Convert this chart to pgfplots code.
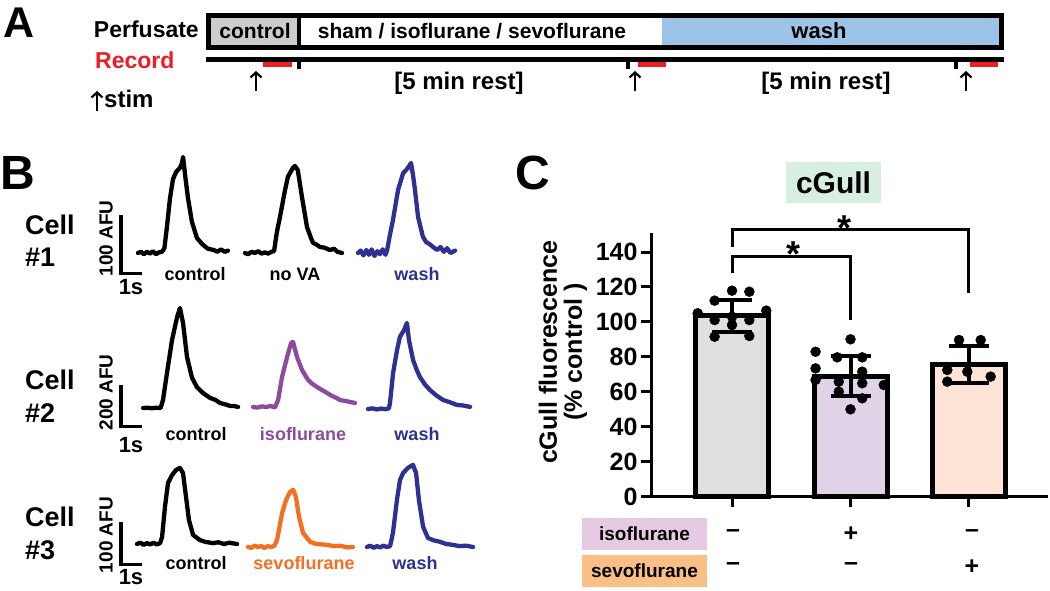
\documentclass[border=0pt]{standalone}
\usepackage{pgfplots}
\pgfplotsset{compat=1.18}
\usepackage{fontspec}
\setmainfont{Liberation Sans}
\usetikzlibrary{arrows.meta}

\definecolor{ctlgray}{HTML}{CCCCCC}
\definecolor{washblue}{HTML}{9DC3E6}
\definecolor{recred}{HTML}{EE1C25}
\definecolor{tblue}{HTML}{2E3192}
\definecolor{tpurple}{HTML}{8E4A9E}
\definecolor{torange}{HTML}{F37021}
\definecolor{barA}{HTML}{DFE0DF}
\definecolor{barB}{HTML}{E1D3E7}
\definecolor{barC}{HTML}{FDE4D6}
\definecolor{isobox}{HTML}{E6CAE4}
\definecolor{sevobox}{HTML}{F9BF85}
\definecolor{gullbox}{HTML}{D6EFE1}

\newcommand{\fs}[1]{\fontsize{#1}{#1}\selectfont}

\pgfplotsset{
  trace/.style={hide axis, clip=false, anchor=south west,
    x=22pt, xmin=0, xmax=4.9, ymin=0,
    every axis plot/.append style={mark=none, line width=4.3pt,
      line join=round, line cap=round}},
}

\begin{document}
\begin{tikzpicture}

% ---- drawing in pixel coordinates (y down)
\begin{scope}[x=1pt,y=-1pt,yshift=591pt]
  % panel A
  \node[anchor=base west, font=\fs{43}\bfseries, inner sep=0pt] at (3,38) {A};
  \node[anchor=base east, font=\fs{23}\bfseries, inner sep=0pt] at (199,38) {Perfusate};
  \fill[ctlgray] (206,13) rectangle (299,50);
  \fill[washblue] (662,13) rectangle (1004,50);
  \draw[line width=5pt] (208.5,15.5) rectangle (1001.5,47.5);
  \draw[line width=4pt] (299,15) -- (299,48);
  \node[anchor=base, font=\fs{21}\bfseries, inner sep=0pt] at (255,38.5) {control};
  \node[anchor=base, font=\fs{21}\bfseries, inner sep=0pt] at (472,38.5) {sham / isoflurane / sevoflurane};
  \node[anchor=base, font=\fs{22}\bfseries, inner sep=0pt] at (819,38.5) {wash};

  \node[anchor=base west, font=\fs{23}\bfseries, text=recred, inner sep=0pt] at (95,69) {Record};
  \draw[line width=4.5pt] (206,59.5) -- (1004,59.5);
  \foreach \t in {299,628,956} \draw[line width=4pt] (\t,57) -- (\t,69);
  \draw[recred, line width=5pt] (263,64.5) -- (292,64.5);
  \draw[recred, line width=5pt] (638,64.5) -- (666,64.5);
  \draw[recred, line width=5pt] (970,64.5) -- (998,64.5);
  \foreach \t in {256,635,966}
    \draw[line width=2.2pt, -{Straight Barb[length=5pt,width=11pt]}] (\t,91) -- (\t,71);
  \node[anchor=base, font=\fs{24}\bfseries, inner sep=0pt] at (459,90) {[5 min rest]};
  \node[anchor=base, font=\fs{24}\bfseries, inner sep=0pt] at (826,90) {[5 min rest]};
  \draw[line width=2.2pt, -{Straight Barb[length=5pt,width=11pt]}] (97,111) -- (97,91);
  \node[anchor=base west, font=\fs{24}\bfseries, inner sep=0pt] at (104,108) {stim};

  % panel B
  \node[anchor=base west, font=\fs{48}\bfseries, inner sep=0pt] at (0,190) {B};
  \node[anchor=base west, font=\fs{27}\bfseries, inner sep=0pt] at (25,235) {Cell};
  \node[anchor=base west, font=\fs{27}\bfseries, inner sep=0pt] at (25,267) {\#1};
  \node[anchor=base west, font=\fs{27}\bfseries, inner sep=0pt] at (25,390) {Cell};
  \node[anchor=base west, font=\fs{27}\bfseries, inner sep=0pt] at (25,423) {\#2};
  \node[anchor=base west, font=\fs{27}\bfseries, inner sep=0pt] at (25,527) {Cell};
  \node[anchor=base west, font=\fs{27}\bfseries, inner sep=0pt] at (25,560) {\#3};

  \draw[line width=3.3pt] (121,215) -- (121,273.5) -- (142,273.5);
  \draw[line width=3.3pt] (121,385) -- (121,426.5) -- (142,426.5);
  \draw[line width=3.3pt] (121,522) -- (121,564.5) -- (142,564.5);
  \node[rotate=90, font=\fs{19}\bfseries, inner sep=0pt] at (106,238.5) {100 AFU};
  \node[rotate=90, font=\fs{19}\bfseries, inner sep=0pt] at (106,392.5) {200 AFU};
  \node[rotate=90, font=\fs{19}\bfseries, inner sep=0pt] at (106,535) {100 AFU};
  \node[anchor=base, font=\fs{22}\bfseries, inner sep=0pt] at (131,295) {1s};
  \node[anchor=base, font=\fs{22}\bfseries, inner sep=0pt] at (131,453) {1s};
  \node[anchor=base, font=\fs{22}\bfseries, inner sep=0pt] at (131,585) {1s};

  \node[anchor=base, font=\fs{18}\bfseries, inner sep=0pt] at (195,281) {control};
  \node[anchor=base, font=\fs{18}\bfseries, inner sep=0pt] at (295,281) {no VA};
  \node[anchor=base, font=\fs{18}\bfseries, inner sep=0pt, text=tblue] at (417,281) {wash};
  \node[anchor=base, font=\fs{18}\bfseries, inner sep=0pt] at (196,441) {control};
  \node[anchor=base, font=\fs{18}\bfseries, inner sep=0pt, text=tpurple] at (303,441) {isoflurane};
  \node[anchor=base, font=\fs{18}\bfseries, inner sep=0pt, text=tblue] at (417,441) {wash};
  \node[anchor=base, font=\fs{18}\bfseries, inner sep=0pt] at (196,570) {control};
  \node[anchor=base, font=\fs{18}\bfseries, inner sep=0pt, text=torange] at (304,570) {sevoflurane};
  \node[anchor=base, font=\fs{18}\bfseries, inner sep=0pt, text=tblue] at (415,570) {wash};

  % panel C text
  \node[anchor=base east, font=\fs{48}\bfseries, inner sep=0pt] at (550,190) {C};
  \node[fill=gullbox, minimum width=95pt, minimum height=41pt, inner sep=0pt,
        font=\fs{30}\bfseries] at (833.5,182.5) {cGull};
  \node[fill=isobox, minimum width=125pt, minimum height=32pt, inner sep=0pt,
        font=\fs{19}\bfseries] at (644.5,534) {isoflurane};
  \node[fill=sevobox, minimum width=125pt, minimum height=32pt, inner sep=0pt,
        font=\fs{19}\bfseries] at (644.5,571) {sevoflurane};
  \foreach \xx/\s in {733/--,851/+,972/--}
    \node[font=\fs{25}\bfseries, inner sep=0pt] at (\xx,534) {\s};
  \foreach \xx/\s in {733/--,851/--,972/+}
    \node[font=\fs{25}\bfseries, inner sep=0pt] at (\xx,567) {\s};
\end{scope}

% ---- panel B traces, time in s and fluorescence in AFU
% cell 1
\begin{axis}[trace, y=0.6pt, ymax=170, at={(138pt,338pt)}]
\addplot[black] coordinates {(0,0)(0.14,2)(0.27,-2)(0.41,2)(0.55,-1)(0.68,3)(0.82,-2)(0.95,1)(1.09,2)(1.2,8)(1.32,45)(1.45,90)(1.59,123)(1.73,135)(1.91,142)(2.0,150)(2.05,160)(2.14,130)(2.27,92)(2.45,52)(2.68,25)(2.91,15)(3.18,7)(3.45,5)(3.6,2)(3.77,6)(3.95,2)(4.09,4)};
\end{axis}
\begin{axis}[trace, y=0.6pt, ymax=170, at={(245pt,338pt)}]
\addplot[black] coordinates {(0,0)(0.14,-2)(0.3,2)(0.45,0)(0.6,3)(0.75,-1)(0.9,1)(1.05,-1)(1.2,2)(1.32,3)(1.45,35)(1.59,60)(1.82,105)(1.95,127)(2.18,142)(2.27,145)(2.4,138)(2.59,93)(2.82,43)(3.0,25)(3.09,17)(3.25,14)(3.41,10)(3.6,9)(3.86,5)(4.05,7)(4.2,2)(4.41,0)};
\end{axis}
\begin{axis}[trace, y=0.6pt, ymax=170, at={(358pt,338pt)}]
\addplot[tblue] coordinates {(0,0)(0.12,4)(0.25,-4)(0.38,5)(0.5,-3)(0.62,6)(0.75,-5)(0.88,3)(1.0,-2)(1.12,6)(1.25,-3)(1.32,4)(1.45,30)(1.59,55)(1.82,105)(2.05,133)(2.18,138)(2.27,142)(2.41,150)(2.5,130)(2.59,105)(2.73,60)(2.95,27)(3.1,18)(3.25,15)(3.41,10)(3.6,5)(3.75,10)(3.9,2)(4.05,8)(4.2,0)(4.41,4)};
\end{axis}
% cell 2
\begin{axis}[trace, y=0.21pt, ymax=480, at={(143pt,183pt)}]
\addplot[black] coordinates {(0,0)(0.2,1)(0.4,-1)(0.6,1)(0.8,0)(0.91,38)(1.09,167)(1.32,324)(1.55,433)(1.68,476)(1.82,405)(2.0,243)(2.23,143)(2.45,100)(2.73,71)(3.05,48)(3.3,38)(3.5,24)(3.75,17)(3.95,10)(4.15,9)(4.32,5)};
\end{axis}
\begin{axis}[trace, y=0.21pt, ymax=480, at={(253pt,184pt)}]
\addplot[tpurple] coordinates {(0,0)(0.2,-3)(0.4,3)(0.6,0)(0.8,5)(1.0,-2)(1.14,33)(1.32,143)(1.55,238)(1.73,305)(1.82,310)(2.0,238)(2.23,176)(2.5,129)(2.7,110)(2.91,95)(3.15,80)(3.36,67)(3.6,52)(3.8,43)(3.95,33)(4.2,29)(4.4,24)(4.64,19)};
\end{axis}
\begin{axis}[trace, y=0.21pt, ymax=480, at={(368pt,182pt)}]
\addplot[tblue] coordinates {(0,0)(0.2,3)(0.4,-2)(0.6,2)(0.8,-1)(0.95,3)(1.0,29)(1.14,171)(1.32,281)(1.45,343)(1.64,376)(1.77,410)(1.86,329)(2.05,233)(2.2,190)(2.36,152)(2.6,115)(2.82,90)(3.1,65)(3.41,43)(3.7,33)(4.05,19)(4.3,17)(4.64,10)};
\end{axis}
% cell 3
\begin{axis}[trace, y=0.43pt, ymax=200, at={(137pt,47pt)}]
\addplot[black] coordinates {(0,0)(0.15,3)(0.3,-2)(0.45,2)(0.6,-1)(0.75,3)(0.9,-1)(1.05,2)(1.14,16)(1.27,86)(1.41,142)(1.59,160)(1.77,172)(1.95,177)(2.09,165)(2.23,109)(2.36,56)(2.55,21)(2.86,9)(3.1,5)(3.45,2)(3.7,4)(3.95,0)(4.2,3)(4.55,0)};
\end{axis}
\begin{axis}[trace, y=0.43pt, ymax=200, at={(248pt,44pt)}]
\addplot[torange] coordinates {(0,0)(0.15,-2)(0.3,3)(0.45,0)(0.6,2)(0.75,-2)(0.9,2)(1.05,0)(1.2,3)(1.32,16)(1.55,79)(1.73,109)(1.91,128)(2.05,133)(2.18,116)(2.32,70)(2.5,33)(2.82,12)(3.1,7)(3.59,5)(3.9,2)(4.2,3)(4.5,-1)(4.77,0)};
\end{axis}
\begin{axis}[trace, y=0.43pt, ymax=200, at={(367pt,44pt)}]
\addplot[tblue] coordinates {(0,0)(0.15,3)(0.3,-2)(0.45,2)(0.6,-1)(0.75,3)(0.9,0)(1.05,2)(1.18,33)(1.36,109)(1.5,156)(1.64,172)(1.86,184)(2.09,191)(2.23,172)(2.36,109)(2.55,47)(2.77,21)(3.0,16)(3.32,12)(3.6,7)(3.9,5)(4.2,2)(4.5,3)(4.82,0)};
\end{axis}

% ---- panel C bar chart
\begin{axis}[
  at={(651pt,94pt)}, anchor=south west,
  scale only axis, width=397pt, height=264pt,
  xmin=-0.684, xmax=2.667, ymin=0, ymax=150.86,
  axis x line*=bottom, axis y line*=left,
  axis line style={line width=3pt, black},
  xtick={0,1,2}, xticklabels={,,},
  ytick={0,20,...,140},
  tick align=outside, major tick length=10pt,
  tick style={line width=3pt, black},
  ticklabel style={font=\fs{25}\bfseries},
  /pgf/number format/assume math mode=true,
  ylabel={cGull fluorescence\\(\% control )},
  every axis y label/.style={at={(axis description cs:-0.2217,0.549)},
    rotate=90, anchor=center, align=center, font=\fs{25}\bfseries},
  clip=false,
]
\addplot[ybar, bar width=73pt, bar shift=0pt, fill=barA, draw=black, line width=5pt,
  error bars/.cd, y dir=both, y explicit,
  error bar style={line width=4pt, black},
  error mark options={rotate=90, mark size=20pt, line width=4pt, black}]
  coordinates {(0,103.5) +- (0,9)};
\addplot[ybar, bar width=73pt, bar shift=0pt, fill=barB, draw=black, line width=5pt,
  error bars/.cd, y dir=both, y explicit,
  error bar style={line width=4pt, black},
  error mark options={rotate=90, mark size=20pt, line width=4pt, black}]
  coordinates {(1,69) +- (0,11.5)};
\addplot[ybar, bar width=73pt, bar shift=0pt, fill=barC, draw=black, line width=5pt,
  error bars/.cd, y dir=both, y explicit,
  error bar style={line width=4pt, black},
  error mark options={rotate=90, mark size=20pt, line width=4pt, black}]
  coordinates {(2,75.5) +- (0,10.5)};
% individual cells
\addplot[only marks, mark=*, mark size=5pt, black] coordinates {
  (-0.29,105.0)(-0.147,112.2)(0,117.9)(0.146,117.3)(0.289,106.5)(-0.147,101.1)
  (0,103)(0,98.3)(0.146,101.1)(-0.147,91.6)(0.146,92)};
\addplot[only marks, mark=*, mark size=5pt, black] coordinates {
  (1,90.1)(0.705,83.0)(0.888,79.8)(1.099,79.8)(0.705,73.5)(1.099,71.6)(0.705,66.9)
  (0.901,65.9)(1.099,65.0)(1.281,64.0)(0.901,60.2)(1.099,56.4)(1,50.1)};
\addplot[only marks, mark=*, mark size=5pt, black] coordinates {
  (1.916,89.7)(2.099,89.7)(1.817,72.6)(1.986,71.6)(2.183,68.8)(1.817,65.9)};
% significance brackets
\draw[line width=3pt] (axis cs:0,127.8) -- (axis cs:0,137.3) -- (axis cs:1,137.3) -- (axis cs:1,101);
\draw[line width=3pt] (axis cs:0,143) -- (axis cs:0,152.6) -- (axis cs:2,152.6) -- (axis cs:2,116.4);
\node[anchor=base, font=\fs{36}\bfseries, inner sep=0pt] at (axis cs:0.517,131.5) {*};
\node[anchor=base, font=\fs{36}\bfseries, inner sep=0pt] at (axis cs:0.948,146.7) {*};
\end{axis}

\pgfresetboundingbox
\path[use as bounding box] (0,0) rectangle (1050pt,591pt);
\end{tikzpicture}
\end{document}
